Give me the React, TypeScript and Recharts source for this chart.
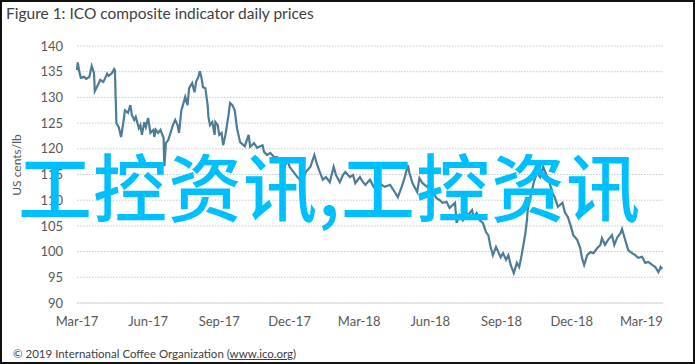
import React from "react";
import { LineChart, Line, XAxis, YAxis, CartesianGrid } from "recharts";

// days since 1 Mar 2017
const days = [
  0, 1, 3, 5, 9, 12, 16, 19, 22, 23, 27, 30, 34, 36, 39, 41, 45, 48, 49, 51,
  54, 57, 60, 62, 66, 69, 71, 74, 76, 80, 82, 84, 87, 89, 92, 95, 99, 100, 102, 105,
  108, 112, 113, 115, 118, 121, 124, 127, 130, 132, 135, 137, 140, 143, 145, 149, 152, 154, 157, 159,
  161, 163, 166, 169, 170, 172, 175, 178, 179, 182, 184, 187, 189, 192, 196, 198, 201, 204, 207, 211,
  217, 222, 224, 229, 233, 237, 240, 242, 246, 250, 255, 259, 263, 268, 272, 275, 280, 285, 292, 296,
  302, 307, 310, 314, 318, 322, 327, 332, 335, 340, 344, 347, 353, 357, 360, 366, 370, 373, 379, 384,
  389, 394, 398, 405, 411, 415, 420, 424, 428, 430, 434, 440, 443, 447, 453, 456, 460, 465, 469, 473,
  478, 482, 489, 491, 495, 499, 503, 506, 511, 513, 517, 521, 525, 529, 532, 535, 538, 542, 545, 548,
  551, 555, 558, 561, 565, 569, 572, 574, 577, 580, 582, 583, 587, 591, 595, 599, 603, 607, 611, 615,
  618, 622, 628, 631, 635, 639, 642, 647, 651, 653, 656, 660, 664, 668, 673, 677, 679, 683, 687, 692,
  695, 699, 703, 705, 709, 713, 718, 722, 726, 731, 735, 739, 744, 748, 752, 755, 757,
];

// US cents/lb
const prices = [
  135.3, 136.8, 135, 133.8, 134, 133.6, 134, 136.1, 134.7, 131.2, 132.4, 133.4, 133, 133.6, 134.6, 134.2, 134.7, 135.5, 135.3, 125,
  124.2, 122.3, 125.2, 127.5, 127, 128.5, 126.6, 125.6, 126.2, 124, 124.6, 122.7, 125.2, 124.2, 126, 123.1, 123.7, 122.3, 123.7, 123.1,
  123.7, 122.1, 116.6, 121.1, 121.7, 123.1, 124.6, 125.6, 124.6, 123.1, 127.5, 128.5, 130.1, 128.5, 131.8, 132.8, 131, 133, 134, 135.1,
  133.8, 132, 131.8, 128.5, 126.2, 124.6, 125.2, 122.7, 125.2, 124.6, 122.7, 123.1, 120.7, 122.7, 126.6, 128.9, 128.5, 127.5, 124, 121.3,
  120.5, 122.7, 120.4, 121.1, 120.2, 120.5, 120.7, 119.4, 118.8, 119.2, 118.4, 118.4, 117.2, 116.3, 117.8, 116.5, 115.5, 114.5, 113.5, 115.5,
  116.5, 118.8, 117.2, 115.5, 114, 114.5, 113.5, 116.5, 114.9, 113.5, 114.9, 115.5, 114.5, 114.9, 113.3, 114.5, 113.5, 113, 114, 112.5,
  112, 113, 112.6, 113, 111.6, 110.6, 112.6, 114.5, 116.8, 115.3, 113.3, 111.6, 114.3, 113.3, 112.6, 113.3, 111.6, 110.4, 110, 109.5,
  109.7, 108.5, 109.5, 105.6, 107.1, 106.1, 107.7, 107.1, 108.1, 106.7, 107.5, 106.1, 105.6, 103.8, 103.2, 100.9, 99.3, 100.9, 99.9, 98.9,
  99.7, 98.4, 99.3, 97.4, 95.8, 97.8, 97, 98.4, 100.9, 103.6, 106.1, 108.1, 111, 113.5, 115.5, 114.5, 116.5, 115, 113.5, 111.4,
  110.6, 108.7, 109.5, 107.7, 106.7, 104.8, 103.2, 102.3, 100.7, 98.9, 97.4, 99.3, 99.9, 99.7, 100.7, 101.3, 102.6, 101.3, 102.3, 103.2,
  101.3, 102.8, 103.6, 104.4, 102.3, 100.3, 99.7, 99.3, 98.8, 99, 97.8, 98, 97.4, 97, 96, 97, 96.6,
];

const tickDays = [0, 92, 184, 275, 365, 457, 549, 640, 730];
const tickLabels = ["Mar-17", "Jun-17", "Sep-17", "Dec-17", "Mar-18", "Jun-18", "Sep-18", "Dec-18", "Mar-19"];
const yTicks = [90, 95, 100, 105, 110, 115, 120, 125, 130, 135, 140];

const data = days.map((d, i) => ({ day: d, price: prices[i] }));

const font = "Lato, 'Open Sans', sans-serif";

export default function App() {
  return (
    <div style={{ position: "absolute", left: 0, top: 0, width: 695, height: 364, background: "#fff", fontFamily: font }}>
      <div style={{ position: "absolute", left: 6, top: 4, fontSize: 15.5, color: "#404040", whiteSpace: "nowrap" }}>
        Figure 1: ICO composite indicator daily prices
      </div>
      <div style={{ position: "absolute", left: 0, top: 0 }}>
        <LineChart width={695} height={364} data={data} margin={{ top: 46, right: 32, bottom: 0, left: 0 }}>
          <CartesianGrid horizontal vertical={false} stroke="#c8c8c8" strokeDasharray="1.5 1.5" />
          <XAxis
            dataKey="day"
            type="number"
            domain={[0, 758]}
            ticks={tickDays}
            interval={0}
            tickFormatter={(v: number) => tickLabels[tickDays.indexOf(v)]}
            axisLine={{ stroke: "#d9d9d9" }}
            tickLine={false}
            tickSize={0}
            tickMargin={14}
            tick={{ fill: "#595959", fontSize: 13, fontFamily: font }}
            height={61}
          />
          <YAxis
            domain={[90, 140]}
            ticks={yTicks}
            interval={0}
            axisLine={false}
            tickLine={false}
            tickSize={0}
            tickMargin={14}
            width={77}
            tick={{ fill: "#595959", fontSize: 13, fontFamily: font }}
          />
          <Line type="linear" dataKey="price" stroke="#4d7c97" strokeWidth={2.2} dot={false} isAnimationActive={false} />
        </LineChart>
      </div>
      <div
        style={{
          position: "absolute", left: 16, top: 165, transform: "translate(-50%, -50%) rotate(-90deg)",
          fontSize: 12, color: "#595959", whiteSpace: "nowrap",
        }}
      >
        US cents/lb
      </div>
      <div style={{ position: "absolute", left: 13, top: 347, fontSize: 11.5, color: "#404040", whiteSpace: "nowrap" }}>
        © 2019 International Coffee Organization (<span style={{ textDecoration: "underline" }}>www.ico.org</span>)
      </div>
      <div
        style={{
          position: "absolute", left: 18, top: 147, fontSize: 74, lineHeight: 1, color: "#00bfff", letterSpacing: 1,
          fontFamily: "'Noto Sans CJK SC', sans-serif", fontWeight: 500, whiteSpace: "nowrap",
        }}
      >
        工控资讯,工控资讯
      </div>
      <div style={{ position: "absolute", left: 0, top: 0, width: 695, height: 364, boxSizing: "border-box", border: "2px solid #111", pointerEvents: "none" }} />
    </div>
  );
}
